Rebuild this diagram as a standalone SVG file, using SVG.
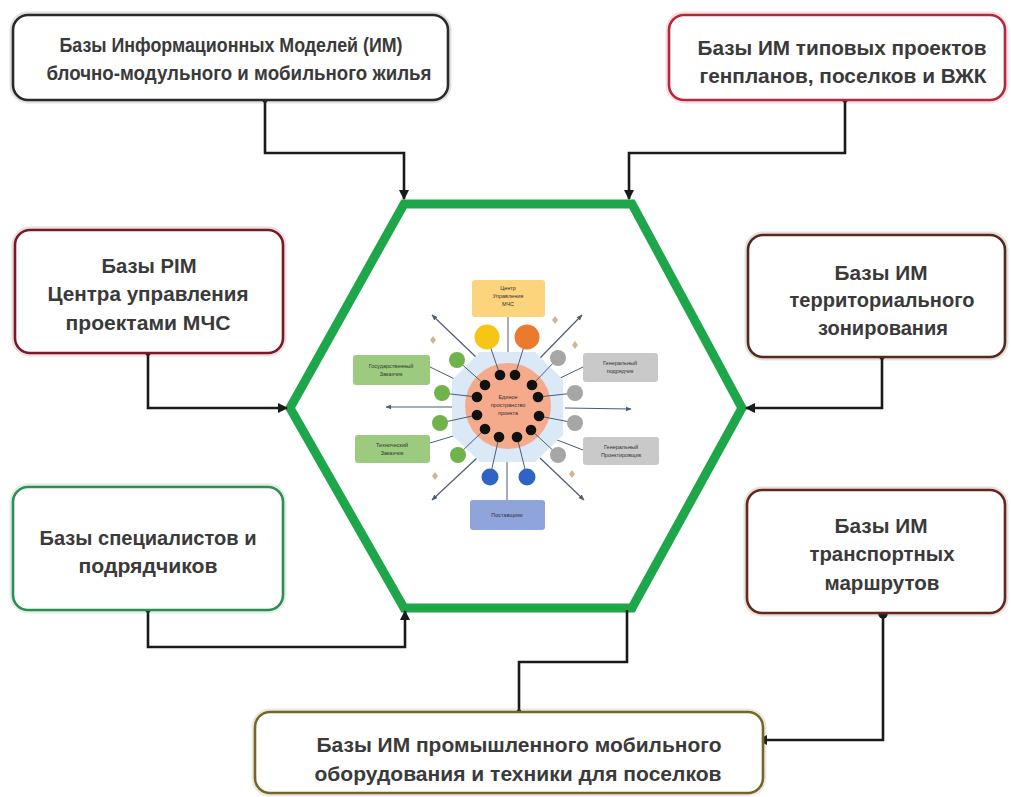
<svg xmlns="http://www.w3.org/2000/svg" width="1011" height="797" viewBox="0 0 1011 797">
  <style>
    .box { fill: #ffffff; stroke-width: 2.6; }
    .halo { fill: none; stroke-width: 7; stroke-opacity: 0.15; }
    .lbl { font-family: "Liberation Sans", Arial, sans-serif; font-weight: bold; font-size: 20px; fill: #3a3a3a; text-anchor: middle; }
    .conn { fill: none; stroke: #1a1a1a; stroke-width: 2.6; }
    .hex { fill: #ffffff; stroke: #1ea64b; stroke-width: 9; stroke-linejoin: miter; }
    .tiny { font-family: "Liberation Sans", Arial, sans-serif; font-size: 5.5px; fill: #333; text-anchor: middle; }
    .link { stroke: #4d5d75; stroke-width: 1; fill: none; }
    .ray { stroke: #4d5d75; stroke-width: 1.2; fill: none; }
    .dot { fill: #111111; }
    .gc { fill: #6fb34a; }
    .sc { fill: #a6a6a6; }
    .bc { fill: #2f64c4; }
    .mark { fill: #d2b48f; }
  </style>
  <defs>
    <marker id="arrow" viewBox="0 0 10 10" refX="9" refY="5" markerWidth="4" markerHeight="4" orient="auto">
      <path d="M0,0 L10,5 L0,10 z" fill="#1a1a1a"/>
    </marker>
    <marker id="startdot" viewBox="0 0 10 10" refX="5" refY="5" markerWidth="2.5" markerHeight="2.5" orient="auto">
      <circle cx="5" cy="5" r="4" fill="#1a1a1a"/>
    </marker>
    <marker id="bigdot" viewBox="0 0 10 10" refX="5" refY="5" markerWidth="4" markerHeight="4" orient="auto">
      <circle cx="5" cy="5" r="4.5" fill="#1a1a1a"/>
    </marker>
    <marker id="tinyarrow" viewBox="0 0 10 10" refX="9" refY="5" markerWidth="5" markerHeight="5" orient="auto">
      <path d="M0,1 L10,5 L0,9 z" fill="#4d5d75"/>
    </marker>
  </defs>

  <rect x="0" y="0" width="1011" height="797" fill="#ffffff"/>

  <!-- central hexagon -->
  <g id="hexagon">
    <polygon class="hex" points="404,204 632,204 742,408 632,608 404,608 290,408"/>
  </g>

  <!-- connectors between the databases and the hexagon -->
  <g id="connectors">
    <path class="conn" d="M265,100 V153 H404 V199" marker-start="url(#startdot)" marker-end="url(#arrow)"/>
    <path class="conn" d="M845,100 V153 H629 V199" marker-start="url(#startdot)" marker-end="url(#arrow)"/>
    <path class="conn" d="M148,353 V408 H287" marker-start="url(#startdot)" marker-end="url(#arrow)"/>
    <path class="conn" d="M882,357 V408 H746" marker-start="url(#startdot)" marker-end="url(#arrow)"/>
    <path class="conn" d="M148,610 V647 H405 V611" marker-start="url(#startdot)" marker-end="url(#arrow)"/>
    <path class="conn" d="M883,614 V740 H758" marker-start="url(#bigdot)" marker-end="url(#arrow)"/>
    <path class="conn" d="M519,712 V662 H627 V610" marker-start="url(#startdot)"/>
  </g>

  <!-- project space scheme inside the hexagon -->
  <g id="project-space">
    <!-- outer rays -->
    <line class="ray" x1="477" y1="358" x2="432" y2="315" marker-end="url(#tinyarrow)"/>
    <line class="ray" x1="540" y1="358" x2="582" y2="315" marker-end="url(#tinyarrow)"/>
    <line class="ray" x1="452" y1="407" x2="386" y2="407" marker-end="url(#tinyarrow)"/>
    <line class="ray" x1="565" y1="408" x2="631" y2="409" marker-end="url(#tinyarrow)"/>
    <line class="ray" x1="477" y1="458" x2="432" y2="500" marker-end="url(#tinyarrow)"/>
    <line class="ray" x1="540" y1="458" x2="584" y2="500" marker-end="url(#tinyarrow)"/>

    <!-- participant boxes -->
    <rect x="472" y="280" width="73" height="37" rx="3" fill="#fbd47c"/>
    <text class="tiny" x="508" y="290">Центр</text>
    <text class="tiny" x="508" y="298">Управления</text>
    <text class="tiny" x="508" y="306">МЧС</text>

    <rect x="353" y="355" width="77" height="30" rx="3" fill="#9ccb80"/>
    <text class="tiny" x="391" y="368">Государственный</text>
    <text class="tiny" x="391" y="376">Заказчик</text>

    <rect x="355" y="435" width="75" height="28" rx="3" fill="#9ccb80"/>
    <text class="tiny" x="392" y="447">Технический</text>
    <text class="tiny" x="392" y="455">Заказчик</text>

    <rect x="583" y="353" width="75" height="29" rx="3" fill="#c9c9c9"/>
    <text class="tiny" x="620" y="365">Генеральный</text>
    <text class="tiny" x="620" y="373">подрядчик</text>

    <rect x="583" y="437" width="76" height="28" rx="3" fill="#c9c9c9"/>
    <text class="tiny" x="621" y="449">Генеральный</text>
    <text class="tiny" x="621" y="457">Проектировщик</text>

    <rect x="470" y="500" width="75" height="30" rx="3" fill="#8fa4da"/>
    <text class="tiny" x="507" y="517">Поставщики</text>

    <!-- box links to the core -->
    <line class="link" x1="508" y1="317" x2="508" y2="355"/>
    <line class="link" x1="507" y1="458" x2="507" y2="500"/>
    <line class="link" x1="430" y1="367" x2="463" y2="383"/>
    <line class="link" x1="430" y1="443" x2="463" y2="433"/>
    <line class="link" x1="583" y1="367" x2="552" y2="382"/>
    <line class="link" x1="583" y1="450" x2="552" y2="438"/>

    <!-- core -->
    <polygon points="480,352 535,352 563,380 563,435 535,462 480,462 452,435 452,380" fill="#dbe8f6"/>
    <circle cx="508" cy="406" r="43" fill="#f5aa8c"/>

    <!-- links from participants to core nodes -->
    <line class="link" x1="487" y1="337" x2="500" y2="375"/>
    <line class="link" x1="527" y1="337" x2="515" y2="375"/>
    <line class="link" x1="457" y1="360" x2="485" y2="385"/>
    <line class="link" x1="442" y1="393" x2="477" y2="397"/>
    <line class="link" x1="440" y1="423" x2="477" y2="415"/>
    <line class="link" x1="458" y1="455" x2="485" y2="429"/>
    <line class="link" x1="558" y1="358" x2="532" y2="385"/>
    <line class="link" x1="575" y1="393" x2="538" y2="397"/>
    <line class="link" x1="575" y1="423" x2="539" y2="416"/>
    <line class="link" x1="558" y1="455" x2="531" y2="430"/>
    <line class="link" x1="490" y1="477" x2="499" y2="437"/>
    <line class="link" x1="527" y1="477" x2="517" y2="437"/>

    <!-- participant circles -->
    <circle cx="487" cy="337" r="12.5" fill="#f6c516"/>
    <circle cx="527" cy="337" r="12.5" fill="#ea7a2e"/>
    <circle class="gc" cx="457" cy="360" r="8"/>
    <circle class="gc" cx="442" cy="393" r="8"/>
    <circle class="gc" cx="440" cy="423" r="8"/>
    <circle class="gc" cx="458" cy="455" r="8"/>
    <circle class="sc" cx="558" cy="358" r="8"/>
    <circle class="sc" cx="575" cy="393" r="8"/>
    <circle class="sc" cx="575" cy="423" r="8"/>
    <circle class="sc" cx="558" cy="455" r="8"/>
    <circle class="bc" cx="490" cy="477" r="8.5"/>
    <circle class="bc" cx="527" cy="477" r="8.5"/>

    <!-- core nodes -->
    <circle class="dot" cx="500" cy="375" r="5.3"/>
    <circle class="dot" cx="515" cy="375" r="5.3"/>
    <circle class="dot" cx="485" cy="385" r="5.3"/>
    <circle class="dot" cx="532" cy="385" r="5.3"/>
    <circle class="dot" cx="477" cy="397" r="5.3"/>
    <circle class="dot" cx="538" cy="397" r="5.3"/>
    <circle class="dot" cx="477" cy="415" r="5.3"/>
    <circle class="dot" cx="539" cy="416" r="5.3"/>
    <circle class="dot" cx="485" cy="429" r="5.3"/>
    <circle class="dot" cx="531" cy="430" r="5.3"/>
    <circle class="dot" cx="499" cy="437" r="5.3"/>
    <circle class="dot" cx="517" cy="437" r="5.3"/>

    <text class="tiny" x="508" y="399">Единое</text>
    <text class="tiny" x="508" y="407">пространство</text>
    <text class="tiny" x="508" y="415">проекта</text>

    <!-- small decorative markers -->
    <path class="mark" d="M433,336 L436,340 L433,344 L430,340 z"/>
    <path class="mark" d="M555,316 L558,320 L555,324 L552,320 z"/>
    <path class="mark" d="M575,341 L578,345 L575,349 L572,345 z"/>
    <path class="mark" d="M435,472 L438,476 L435,480 L432,476 z"/>
    <path class="mark" d="M572,470 L575,474 L572,478 L569,474 z"/>
  </g>

  <g id="node-residential">
    <rect class="halo" x="13" y="15" width="435" height="85" rx="15" stroke="#333"/>
    <rect class="box" x="13" y="15" width="435" height="85" rx="15" stroke="#2a2a2a"/>
    <text class="lbl" x="231" y="52" textLength="343" lengthAdjust="spacingAndGlyphs">Базы Информационных Моделей (ИМ)</text>
    <text class="lbl" x="239" y="80" textLength="385" lengthAdjust="spacingAndGlyphs">блочно-модульного и мобильного жилья</text>
  </g>

  <g id="node-typical-projects">
    <rect class="halo" x="669" y="15" width="336" height="85" rx="15" stroke="#c0303c"/>
    <rect class="box" x="669" y="15" width="336" height="85" rx="15" stroke="#b3283a"/>
    <text class="lbl" x="842" y="55" textLength="289" lengthAdjust="spacingAndGlyphs">Базы ИМ типовых проектов</text>
    <text class="lbl" x="843" y="83" textLength="287" lengthAdjust="spacingAndGlyphs">генпланов, поселков и ВЖК</text>
  </g>

  <g id="node-pim">
    <rect class="halo" x="15" y="230" width="268" height="123" rx="15" stroke="#7f1d2a"/>
    <rect class="box" x="15" y="230" width="268" height="123" rx="15" stroke="#7a1a28"/>
    <text class="lbl" x="149" y="273" textLength="95" lengthAdjust="spacingAndGlyphs">Базы PIM</text>
    <text class="lbl" x="148" y="301" textLength="201" lengthAdjust="spacingAndGlyphs">Центра управления</text>
    <text class="lbl" x="148" y="330" textLength="165" lengthAdjust="spacingAndGlyphs">проектами МЧС</text>
  </g>

  <g id="node-zoning">
    <rect class="halo" x="748" y="235" width="257" height="122" rx="15" stroke="#5a2d1e"/>
    <rect class="box" x="748" y="235" width="257" height="122" rx="15" stroke="#55291b"/>
    <text class="lbl" x="881" y="280" textLength="93" lengthAdjust="spacingAndGlyphs">Базы ИМ</text>
    <text class="lbl" x="882" y="307" textLength="185" lengthAdjust="spacingAndGlyphs">территориального</text>
    <text class="lbl" x="883" y="335" textLength="130" lengthAdjust="spacingAndGlyphs">зонирования</text>
  </g>

  <g id="node-specialists">
    <rect class="halo" x="13" y="487" width="270" height="123" rx="15" stroke="#2e8b57"/>
    <rect class="box" x="13" y="487" width="270" height="123" rx="15" stroke="#2f8d55"/>
    <text class="lbl" x="148" y="545" textLength="217" lengthAdjust="spacingAndGlyphs">Базы специалистов и</text>
    <text class="lbl" x="148" y="573" textLength="139" lengthAdjust="spacingAndGlyphs">подрядчиков</text>
  </g>

  <g id="node-transport">
    <rect class="halo" x="747" y="490" width="258" height="123" rx="15" stroke="#6b2d20"/>
    <rect class="box" x="747" y="490" width="258" height="123" rx="15" stroke="#61281c"/>
    <text class="lbl" x="881" y="533" textLength="93" lengthAdjust="spacingAndGlyphs">Базы ИМ</text>
    <text class="lbl" x="882" y="561" textLength="145" lengthAdjust="spacingAndGlyphs">транспортных</text>
    <text class="lbl" x="882" y="590" textLength="115" lengthAdjust="spacingAndGlyphs">маршрутов</text>
  </g>

  <g id="node-equipment">
    <rect class="halo" x="255" y="712" width="508" height="81" rx="15" stroke="#7b6b2b"/>
    <rect class="box" x="255" y="712" width="508" height="81" rx="15" stroke="#75652a"/>
    <text class="lbl" x="519" y="752" textLength="405" lengthAdjust="spacingAndGlyphs">Базы ИМ промышленного мобильного</text>
    <text class="lbl" x="518" y="781" textLength="407" lengthAdjust="spacingAndGlyphs">оборудования и техники для поселков</text>
  </g>
</svg>
